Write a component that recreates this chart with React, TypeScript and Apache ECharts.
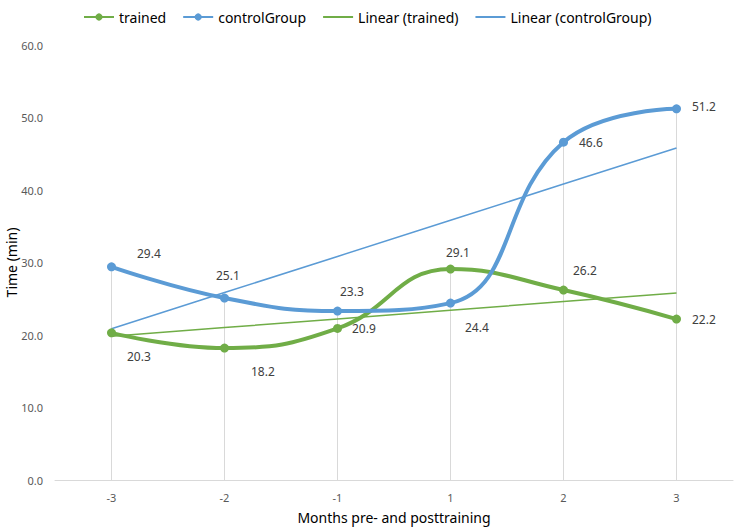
import React, { useEffect, useRef } from "react";
import * as echarts from "echarts";

const categories = ["-3", "-2", "-1", "1", "2", "3"];
const trained = [20.3, 18.2, 20.9, 29.1, 26.2, 22.2];
const controlGroup = [29.4, 25.1, 23.3, 24.4, 46.6, 51.2];
const yTicks = [0, 10, 20, 30, 40, 50, 60];

// label offsets (dx, dy) relative to point, position right
const trainedLabelOffsets = [[6, 24], [17, 23], [5, 0], [-14, -17], [0, -20], [6, 0]];
const controlLabelOffsets = [[16, -13], [-18, -23], [-7, -20], [5, 24], [6, 0], [6, -2]];

function linearFit(values: number[]): number[] {
  const n = values.length;
  const xs = values.map((_, i) => i + 1);
  const mx = xs.reduce((a, b) => a + b, 0) / n;
  const my = values.reduce((a, b) => a + b, 0) / n;
  let sxy = 0, sxx = 0;
  for (let i = 0; i < n; i++) {
    sxy += (xs[i] - mx) * (values[i] - my);
    sxx += (xs[i] - mx) * (xs[i] - mx);
  }
  const slope = sxy / sxx;
  return xs.map((x) => my + slope * (x - mx));
}

const GREEN = "#70AD47";
const BLUE = "#5B9BD5";
const FONT = "'Noto Sans', 'Open Sans', sans-serif";

export default function App() {
  const ref = useRef<HTMLDivElement>(null);
  useEffect(() => {
    if (!ref.current) return;
    const chart = echarts.init(ref.current, undefined, { renderer: "svg" });
    const dropMax = categories.map((_, i) => Math.max(trained[i], controlGroup[i]));
    const mkData = (vals: number[], offs: number[][]) =>
      vals.map((v, i) => ({
        value: v,
        label: { offset: offs[i] },
      }));
    chart.setOption({
      animation: false,
      textStyle: { fontFamily: FONT },
      legend: {
        top: 5,
        left: 78,
        itemWidth: 30,
        itemHeight: 9,
        itemGap: 16,
        textStyle: { fontSize: 14, color: "#000", fontFamily: FONT },
        data: [
          { name: "trained" },
          { name: "controlGroup" },
          { name: "Linear (trained)", itemStyle: { opacity: 0 } },
          { name: "Linear (controlGroup)", itemStyle: { opacity: 0 } },
        ],
      },
      grid: {
        left: 55,
        right: 3,
        top: 45,
        bottom: 48,
        containLabel: false,
        outerBoundsMode: "none",
      },
      xAxis: {
        type: "category",
        data: categories,
        boundaryGap: true,
        name: "Months pre- and posttraining",
        nameLocation: "middle",
        nameGap: 30,
        nameMoveOverlap: false,
        nameTextStyle: { fontSize: 14, color: "#000", fontFamily: FONT },
        axisLine: { lineStyle: { color: "#d9d9d9", width: 1 } },
        axisTick: { show: false },
        axisLabel: { color: "#595959", fontSize: 11, margin: 12, fontFamily: FONT },
        splitLine: { show: false },
      },
      yAxis: {
        type: "value",
        min: yTicks[0],
        max: yTicks[yTicks.length - 1],
        interval: 10,
        name: "Time (min)",
        nameLocation: "middle",
        nameGap: 37,
        nameMoveOverlap: false,
        nameTextStyle: { fontSize: 14, color: "#000", fontFamily: FONT },
        axisLine: { show: false },
        axisTick: { show: false },
        splitLine: { show: false },
        axisLabel: {
          color: "#595959",
          fontSize: 11,
          margin: 12,
          fontFamily: FONT,
          formatter: (v: number) => v.toFixed(1),
        },
      },
      series: [
        {
          name: "drop",
          type: "custom",
          silent: true,
          z: 1,
          data: dropMax.map((v, i) => [i, v]),
          renderItem: (params: any, api: any) => {
            const idx = api.value(0);
            const top = api.coord([idx, api.value(1)]);
            const bottom = api.coord([idx, 0]);
            return {
              type: "line",
              shape: { x1: top[0], y1: top[1], x2: bottom[0], y2: bottom[1] },
              style: { stroke: "#d9d9d9", lineWidth: 1 },
            };
          },
        },
        {
          name: "Linear (trained)",
          type: "line",
          data: linearFit(trained),
          symbol: "none",
          lineStyle: { color: GREEN, width: 1.5 },
          itemStyle: { color: GREEN },
          z: 3,
        },
        {
          name: "Linear (controlGroup)",
          type: "line",
          data: linearFit(controlGroup),
          symbol: "none",
          lineStyle: { color: BLUE, width: 1.5 },
          itemStyle: { color: BLUE },
          z: 3,
        },
        {
          name: "trained",
          type: "line",
          smooth: 0.45,
          data: mkData(trained, trainedLabelOffsets),
          symbol: "circle",
          symbolSize: 9,
          lineStyle: { color: GREEN, width: 4 },
          itemStyle: { color: GREEN },
          z: 4,
          label: {
            show: true,
            position: "right",
            color: "#404040",
            fontSize: 12,
            fontFamily: FONT,
            formatter: (p: any) => Number(p.value).toFixed(1),
          },
        },
        {
          name: "controlGroup",
          type: "line",
          smooth: 0.45,
          data: mkData(controlGroup, controlLabelOffsets),
          symbol: "circle",
          symbolSize: 9,
          lineStyle: { color: BLUE, width: 4 },
          itemStyle: { color: BLUE },
          z: 5,
          label: {
            show: true,
            position: "right",
            color: "#404040",
            fontSize: 12,
            fontFamily: FONT,
            formatter: (p: any) => Number(p.value).toFixed(1),
          },
        },
      ],
    });
    return () => chart.dispose();
  }, []);
  return (
    <div
      ref={ref}
      style={{ position: "absolute", left: 0, top: 0, width: 736, height: 528 }}
    />
  );
}
